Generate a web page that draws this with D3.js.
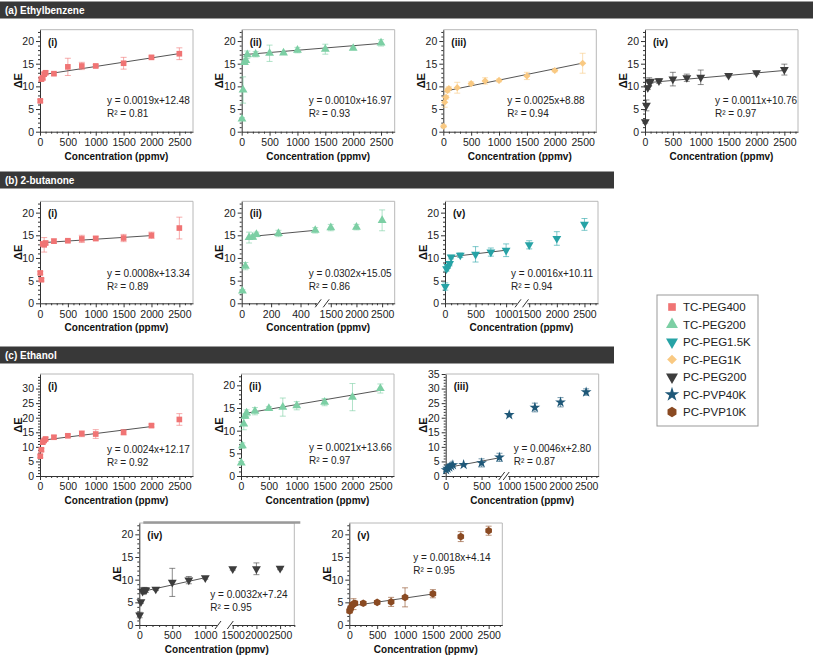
<!doctype html>
<html lang="en">
<head>
<meta charset="utf-8" />
<title>Delta E vs concentration</title>
<style>
  body { margin: 0; background: #fff; }
  svg { display: block; font-family: "Liberation Sans", Arial, sans-serif; }
  .axis path, .axis line { stroke: #333; }
  .axis text { font-size: 10.5px; fill: #222; }
  .head { font-size: 10px; font-weight: bold; fill: #fff; }
  .tag { font-size: 10px; font-weight: bold; fill: #111; }
  .ytitle, .xtitle { font-weight: bold; fill: #111; }
  .ytitle { font-size: 11px; }
  .xtitle { font-size: 10px; }
  .eq { font-size: 10px; fill: #222; }
  .leg { font-size: 11.5px; fill: #222; }
</style>
</head>
<body>
<svg id="chart" width="817" height="657"></svg>
<script src="https://cdn.jsdelivr.net/npm/d3@7/dist/d3.min.js"></script>
<script>
// ---------- data ----------
var conc = [5, 25, 50, 75, 100, 250, 500, 750, 1000, 1500, 2000, 2500];

var legendNames  = ["TC-PEG400", "TC-PEG200", "PC-PEG1.5K", "PC-PEG1K", "PC-PEG200", "PC-PVP40K", "PC-PVP10K"];
var legendColors = ["#f07474", "#7ccfa4", "#27a3a6", "#f9c982", "#3d3d3d", "#1f5878", "#8a4a22"];
var legendShapes = ["square", "triangle", "triangleDown", "diamond", "triangleDown", "star", "hexagon"];

var sectionTitles = ["(a) Ethylbenzene", "(b) 2-butanone", "(c) Ethanol"];

// (a) ethylbenzene
var ebTcPeg400    = [6.8, 11.6, 11.9, 12.7, 13.0, 12.8, 14.3, 14.5, 14.5, 15.1, 16.4, 17.2];
var ebTcPeg400Err = [0.3, 0.4, 0.5, 0.4, 0.4, 0.3, 1.9, 0.8, 0.3, 1.3, 0.3, 1.3];
var ebTcPeg200    = [2.8, 9.2, 15.3, 15.7, 17.0, 17.1, 17.3, 17.4, 18.0, 18.2, 18.4, 19.6];
var ebTcPeg200Err = [0.3, 2.9, 0.4, 0.4, 0.8, 0.6, 1.8, 0.3, 0.6, 1.1, 0.3, 0.7];
var ebPcPeg1k     = [1.2, 6.5, 7.6, 9.1, 9.5, 9.7, 10.6, 11.2, 11.3, 12.3, 13.5, 15.1];
var ebPcPeg1kErr  = [0.3, 1.1, 0.4, 0.5, 0.4, 1.2, 0.4, 0.7, 0.3, 0.8, 0.3, 2.2];
var ebPcPeg200    = [2.2, 5.8, 9.7, 11.0, 11.1, 11.2, 11.6, 11.9, 12.0, 12.4, 13.0, 13.7];
var ebPcPeg200Err = [0.3, 1.2, 0.4, 0.9, 0.4, 0.5, 1.5, 0.8, 1.6, 0.3, 0.4, 1.2];

// (b) 2-butanone
var buTcPeg400    = [6.7, 5.2, 13.1, 12.9, 13.3, 13.7, 13.8, 14.2, 14.3, 14.4, 15.0, 16.6];
var buTcPeg400Err = [0.3, 0.3, 0.4, 1.6, 0.4, 0.5, 0.3, 0.8, 0.5, 0.8, 0.7, 2.4];
var buTcPeg200    = [2.7, 8.2, 14.5, 14.6, 15.2, 15.4, 16.1, null, null, 16.7, 16.8, 18.3];
var buTcPeg200Err = [0.3, 0.8, 1.2, 0.5, 0.5, 0.7, 0.6, null, null, 0.7, 0.6, 2.3];
var buPcPeg15k    = [3.7, 7.6, 8.1, 8.75, 10.2, 10.6, 10.8, 11.3, 11.7, 12.9, 14.3, 17.4];
var buPcPeg15kErr = [0.8, 0.5, 0.4, 0.5, 0.4, 0.5, 1.7, 0.9, 1.4, 0.9, 1.5, 1.3];

// (c) ethanol
var etTcPeg400    = [6.8, 9.0, 11.6, 12.2, 12.7, 13.3, 13.8, 14.5, 14.4, 15.0, 17.3, 19.4];
var etTcPeg400Err = [0.5, 0.5, 0.5, 0.5, 0.5, 0.6, 0.5, 1.0, 1.5, 0.9, 0.5, 2.0];
var etTcPeg200    = [2.9, 6.7, 11.5, 13.2, 13.9, 14.3, 14.9, 15.2, 15.5, 16.3, 17.4, 19.3];
var etTcPeg200Err = [0.3, 0.6, 1.3, 0.5, 0.7, 0.8, 0.4, 2.0, 0.9, 0.8, 3.0, 1.0];
var etPcPvp40k    = [2.1, 2.6, 3.0, 3.5, 3.8, 3.9, 4.5, 6.4, 21.0, 23.5, 25.3, 28.8];
var etPcPvp40kErr = [0.5, 0.3, 0.3, 0.4, 0.4, 0.3, 1.4, 1.4, 0.3, 1.5, 1.6, 1.1];
var etPcPeg200    = [2.2, 5.1, 7.4, 7.7, 7.7, 7.9, 9.4, 9.9, 10.4, 12.4, 12.4, 12.5];
var etPcPeg200Err = [0.6, 0.3, 0.4, 0.6, 0.5, 0.3, 3.1, 0.8, 0.3, 0.3, 1.3, 0.3];
var etPcPvp10k    = [3.1, 3.7, 4.4, 4.6, 4.8, 4.8, 5.0, 5.1, 6.1, 6.9, 19.5, 20.8];
var etPcPvp10kErr = [0.5, 0.6, 0.6, 1.2, 0.5, 0.3, 0.4, 1.0, 2.1, 0.9, 1.1, 1.0];

// fitted lines, end points [conc, dE]
var fitA1 = [[50, 12.58], [2500, 17.23]];
var fitA2 = [[25, 16.99], [2500, 19.47]];
var fitA3 = [[25, 8.94], [2500, 15.13]];
var fitA4 = [[25, 10.79], [2500, 13.51]];
var fitB1 = [[50, 13.38], [2000, 14.94]];
var fitB2 = [[50, 14.7], [500, 16.1]];
var fitB5 = [[100, 10.27], [1000, 11.71]];
var fitC1 = [[50, 12.29], [2000, 16.97]];
var fitC2 = [[75, 13.82], [2500, 18.91]];
var fitC3 = [[5, 2.82], [750, 6.25]];
var fitC4 = [[5, 7.26], [1000, 10.44]];
var fitC5 = [[5, 4.15], [1500, 6.84]];

var eqA1 = ["y = 0.0019x+12.48", "R² = 0.81"];
var eqA2 = ["y = 0.0010x+16.97", "R² = 0.93"];
var eqA3 = ["y = 0.0025x+8.88", "R² = 0.94"];
var eqA4 = ["y = 0.0011x+10.76", "R² = 0.97"];
var eqB1 = ["y = 0.0008x+13.34", "R² = 0.89"];
var eqB2 = ["y = 0.0302x+15.05", "R² = 0.86"];
var eqB5 = ["y = 0.0016x+10.11", "R² = 0.94"];
var eqC1 = ["y = 0.0024x+12.17", "R² = 0.92"];
var eqC2 = ["y = 0.0021x+13.66", "R² = 0.97"];
var eqC3 = ["y = 0.0046x+2.80", "R² = 0.87"];
var eqC4 = ["y = 0.0032x+7.24", "R² = 0.95"];
var eqC5 = ["y = 0.0018x+4.14", "R² = 0.95"];

var xTicksFull = [0, 500, 1000, 1500, 2000, 2500];
var xTicksB2 = [[0, 200, 400], [1500, 2000, 2500]];
var xTicksB5 = [[0, 500, 1000], [1500, 2000, 2500]];
var xTicksC3 = [[0, 500], [1000, 1500, 2000, 2500]];
var xTicksC4 = [[0, 500, 1000], [1500, 2000, 2500]];
var yTicks20 = [0, 5, 10, 15, 20];
var yTicks30 = [0, 5, 10, 15, 20, 25, 30];
var yTicks35 = [0, 5, 10, 15, 20, 25, 30, 35];

// ---------- layout ----------
var W = 153, H = 102;

// x axis pieces (broken axes have two)
var axFull = [{d: [0, 2745], r: [0, 153], ticks: xTicksFull, minor: 100}];
var axB2 = [{d: [0, 510], r: [0, 75], ticks: xTicksB2[0], minor: 50},
            {d: [1440, 2745], r: [86, 153], ticks: xTicksB2[1], minor: 100}];
var axB5 = [{d: [0, 1170], r: [0, 71.5], ticks: xTicksB5[0], minor: 100},
            {d: [1460, 2745], r: [82, 153], ticks: xTicksB5[1], minor: 100}];
var axC3 = [{d: [0, 760], r: [0, 54.5], ticks: xTicksC3[0], minor: 100},
            {d: [970, 2745], r: [62, 153], ticks: xTicksC3[1], minor: 100}];
var axC4 = [{d: [0, 1170], r: [0, 77.2], ticks: xTicksC4[0], minor: 100},
            {d: [1480, 2800], r: [92.5, 155], ticks: xTicksC4[1], minor: 100}];

var panels = [
	{left: 40,    bottom: 131.7, tag: "(i)",   s: 0, v: ebTcPeg400, e: ebTcPeg400Err, fit: fitA1, eq: eqA1, yMax: 22.5, yt: yTicks20, ax: axFull, eqAt: [67, 74]},
	{left: 241.7, bottom: 131.7, tag: "(ii)",  s: 1, v: ebTcPeg200, e: ebTcPeg200Err, fit: fitA2, eq: eqA2, yMax: 22.5, yt: yTicks20, ax: axFull, eqAt: [67, 74]},
	{left: 443.3, bottom: 131.7, tag: "(iii)", s: 3, v: ebPcPeg1k,  e: ebPcPeg1kErr,  fit: fitA3, eq: eqA3, yMax: 22.5, yt: yTicks20, ax: axFull, eqAt: [64, 74]},
	{left: 645,   bottom: 131.7, tag: "(iv)",  s: 4, v: ebPcPeg200, e: ebPcPeg200Err, fit: fitA4, eq: eqA4, yMax: 22.5, yt: yTicks20, ax: axFull, eqAt: [70, 74]},

	{left: 40,    bottom: 303.3, tag: "(i)",   s: 0, v: buTcPeg400, e: buTcPeg400Err, fit: fitB1, eq: eqB1, yMax: 22.5, yt: yTicks20, ax: axFull, eqAt: [67, 76]},
	{left: 241.7, bottom: 303.3, tag: "(ii)",  s: 1, v: buTcPeg200, e: buTcPeg200Err, fit: fitB2, eq: eqB2, yMax: 22.5, yt: yTicks20, ax: axB2,   eqAt: [67, 76]},
	{left: 445,   bottom: 303.3, tag: "(v)",   s: 2, v: buPcPeg15k, e: buPcPeg15kErr, fit: fitB5, eq: eqB5, yMax: 22.5, yt: yTicks20, ax: axB5,   eqAt: [66, 76]},

	{left: 40,    bottom: 476,   tag: "(i)",   s: 0, v: etTcPeg400, e: etTcPeg400Err, fit: fitC1, eq: eqC1, yMax: 35,   yt: yTicks30, ax: axFull, eqAt: [67, 79]},
	{left: 241,   bottom: 476,   tag: "(ii)",  s: 1, v: etTcPeg200, e: etTcPeg200Err, fit: fitC2, eq: eqC2, yMax: 22.5, yt: yTicks20, ax: axFull, eqAt: [68, 77]},
	{left: 445.7, bottom: 476,   tag: "(iii)", s: 5, v: etPcPvp40k, e: etPcPvp40kErr, fit: fitC3, eq: eqC3, yMax: 35,   yt: yTicks35, ax: axC3,   eqAt: [68, 78]},

	{left: 139.3, bottom: 625,   tag: "(iv)",  s: 4, v: etPcPeg200, e: etPcPeg200Err, fit: fitC4, eq: eqC4, yMax: 22.5, yt: yTicks20, ax: axC4,   eqAt: [71, 75], w: 155, heavyTop: true},
	{left: 349.3, bottom: 625,   tag: "(v)",   s: 6, v: etPcPvp10k, e: etPcPvp10kErr, fit: fitC5, eq: eqC5, yMax: 22.5, yt: yTicks20, ax: axFull, eqAt: [64, 38]}
];

var heads = [
	{y: 1.5,   w: 813},
	{y: 171.5, w: 614},
	{y: 346.5, w: 614}
];

// ---------- helpers ----------
var symbolHexagon = {
	draw: function (ctx, size) {
		var r = Math.sqrt(2 * size / (3 * Math.sqrt(3)));
		for (var i = 0; i < 6; i++) {
			var a = Math.PI / 3 * i + Math.PI / 6;
			if (i === 0) ctx.moveTo(r * Math.cos(a), r * Math.sin(a));
			else ctx.lineTo(r * Math.cos(a), r * Math.sin(a));
		}
		ctx.closePath();
	}
};

function markerPath(shape) {
	var type = {square: d3.symbolSquare, triangle: d3.symbolTriangle, triangleDown: d3.symbolTriangle,
		diamond: d3.symbolSquare, star: d3.symbolStar, hexagon: symbolHexagon}[shape];
	var size = {square: 32, triangle: 34, triangleDown: 34, diamond: 26, star: 36, hexagon: 38}[shape];
	return d3.symbol().type(type).size(size)();
}
function markerRot(shape) {
	return shape === "triangleDown" ? 180 : (shape === "diamond" ? 45 : 0);
}

// piecewise x scale for broken axes
function segScale(segs) {
	var parts = segs.map(function (s) { return d3.scaleLinear().domain(s.d).range(s.r); });
	var f = function (v) {
		for (var i = 0; i < segs.length; i++) {
			if (v <= segs[i].d[1]) return parts[i](v);
		}
		return parts[parts.length - 1](v);
	};
	f.parts = parts;
	return f;
}

// ---------- draw ----------
var svg = d3.select("#chart");

heads.forEach(function (h, i) {
	svg.append("rect").attr("x", 0).attr("y", h.y).attr("width", h.w).attr("height", 17)
		.attr("fill", "#383838");
	svg.append("text").attr("class", "head").attr("x", 5).attr("y", h.y + 12.5).text(sectionTitles[i]);
});

panels.forEach(function (p) {
	var w = p.w || W;
	var g = svg.append("g").attr("transform", "translate(" + p.left + "," + (p.bottom - H) + ")");
	var y = d3.scaleLinear().domain([0, p.yMax]).range([H, 0]);
	var x = segScale(p.ax);
	var col = legendColors[p.s], shape = legendShapes[p.s];

	// frame (top + right)
	g.append("path").attr("d", "M0,0H" + w + "V" + H)
		.attr("fill", "none").attr("stroke", "#b8b8b8").attr("stroke-width", 1);
	if (p.heavyTop) {
		g.append("line").attr("x1", 4).attr("x2", w + 6).attr("y1", -0.5).attr("y2", -0.5)
			.attr("stroke", "#9a9a9a").attr("stroke-width", 2.5);
	}

	// y axis
	var yMinor = d3.range(1, p.yMax, 1).filter(function (v) { return p.yt.indexOf(v) < 0; });
	g.append("g").attr("class", "axis")
		.call(d3.axisLeft(y).tickValues(yMinor).tickSize(2).tickFormat(""))
		.call(function (a) { a.select(".domain").remove(); });
	g.append("g").attr("class", "axis")
		.call(d3.axisLeft(y).tickValues(p.yt).tickSize(4).tickSizeOuter(0).tickPadding(2));

	// x axis, one piece per segment
	p.ax.forEach(function (s, i) {
		var sc = x.parts[i];
		var gx = g.append("g").attr("transform", "translate(0," + H + ")");
		var start = Math.ceil(s.d[0] / s.minor) * s.minor;
		var minors = d3.range(start, s.d[1] + 1, s.minor).filter(function (v) { return s.ticks.indexOf(v) < 0; });
		gx.append("g").attr("class", "axis")
			.call(d3.axisBottom(sc).tickValues(minors).tickSize(2).tickFormat(""))
			.call(function (a) { a.select(".domain").remove(); });
		gx.append("g").attr("class", "axis")
			.call(d3.axisBottom(sc).tickValues(s.ticks).tickSize(4).tickSizeOuter(0).tickPadding(3).tickFormat(d3.format("d")));
		// break marks
		if (p.ax.length > 1) {
			var bx = i === 0 ? s.r[1] + 1.5 : s.r[0] - 1.5;
			gx.append("line").attr("x1", bx - 3).attr("y1", 4).attr("x2", bx + 3).attr("y2", -4)
				.attr("stroke", "#333").attr("stroke-width", 1);
		}
	});

	var pts = conc.map(function (c, i) { return {c: c, v: p.v[i], e: p.e[i]}; })
		.filter(function (d) { return d.v != null; });

	// error bars
	var eb = g.append("g").attr("stroke", col).attr("stroke-opacity", 0.6).attr("stroke-width", 1);
	eb.selectAll("line.bar").data(pts).join("line").attr("class", "bar")
		.attr("x1", function (d) { return x(d.c); }).attr("x2", function (d) { return x(d.c); })
		.attr("y1", function (d) { return y(d.v - d.e); }).attr("y2", function (d) { return y(d.v + d.e); });
	eb.selectAll("line.capT").data(pts).join("line").attr("class", "capT")
		.attr("x1", function (d) { return x(d.c) - 3; }).attr("x2", function (d) { return x(d.c) + 3; })
		.attr("y1", function (d) { return y(d.v + d.e); }).attr("y2", function (d) { return y(d.v + d.e); });
	eb.selectAll("line.capB").data(pts).join("line").attr("class", "capB")
		.attr("x1", function (d) { return x(d.c) - 3; }).attr("x2", function (d) { return x(d.c) + 3; })
		.attr("y1", function (d) { return y(d.v - d.e); }).attr("y2", function (d) { return y(d.v - d.e); });

	// fit line
	g.append("path").datum(p.fit)
		.attr("d", d3.line().x(function (d) { return x(d[0]); }).y(function (d) { return y(d[1]); }))
		.attr("fill", "none").attr("stroke", "#555").attr("stroke-width", 1);

	// markers
	var mp = markerPath(shape), rot = markerRot(shape);
	g.append("g").selectAll("path").data(pts).join("path")
		.attr("d", mp).attr("fill", col)
		.attr("transform", function (d) {
			return "translate(" + x(d.c) + "," + y(d.v) + ")" + (rot ? " rotate(" + rot + ")" : "");
		});

	// texts
	g.append("text").attr("class", "tag").attr("x", 8).attr("y", 16).text(p.tag);
	g.selectAll("text.eq").data(p.eq).join("text").attr("class", "eq")
		.attr("x", p.eqAt[0]).attr("y", function (d, i) { return p.eqAt[1] + i * 13; }).text(function (d) { return d; });
	g.append("text").attr("class", "ytitle").attr("text-anchor", "middle")
		.attr("transform", "translate(-18.5," + (H / 2) + ") rotate(-90)").text("ΔE");
	g.append("text").attr("class", "xtitle").attr("text-anchor", "middle")
		.attr("x", w / 2).attr("y", H + 28).text("Concentration (ppmv)");
});

// legend
var lg = svg.append("g").attr("transform", "translate(657,295)");
lg.append("rect").attr("width", 101).attr("height", 131).attr("fill", "#fff").attr("stroke", "#999");
legendNames.forEach(function (n, i) {
	var yy = 12 + i * 17.5;
	var rot = markerRot(legendShapes[i]);
	lg.append("path").attr("d", markerPath(legendShapes[i])).attr("fill", legendColors[i])
		.attr("transform", "translate(15," + yy + ") scale(1.35)" + (rot ? " rotate(" + rot + ")" : ""));
	lg.append("text").attr("class", "leg").attr("x", 26).attr("y", yy).attr("dy", "0.36em").text(n);
});
</script>
</body>
</html>
